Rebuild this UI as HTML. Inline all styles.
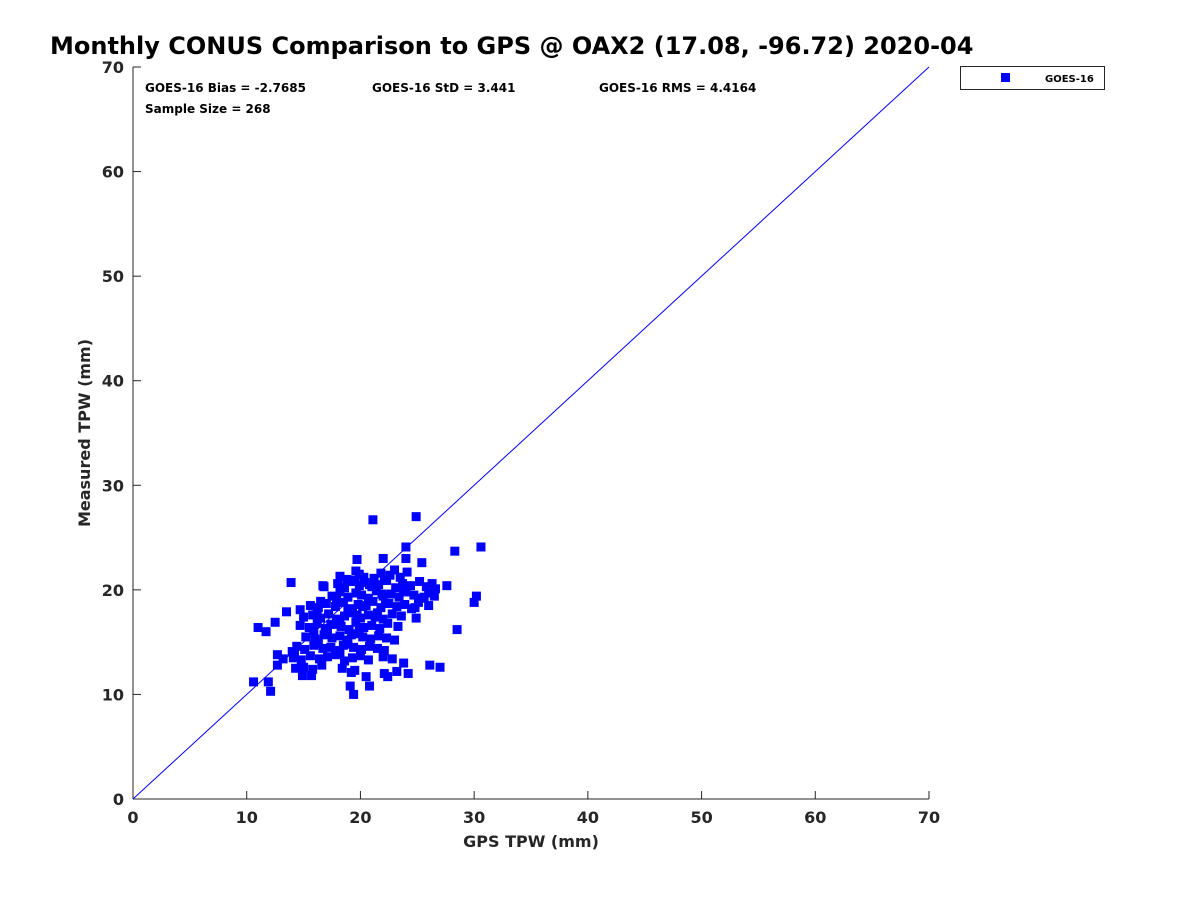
<!DOCTYPE html>
<html><head><meta charset="utf-8"><style>
body{margin:0;background:#fff}
svg text{font-family:"DejaVu Sans","Liberation Sans",sans-serif;font-weight:bold;fill:#262626}
</style></head><body>
<svg id="chart" width="1200" height="900" viewBox="0 0 1200 900" xmlns="http://www.w3.org/2000/svg">
<rect width="1200" height="900" fill="#fff"/>
<text x="50" y="54" font-size="24" fill="#000" style="fill:#000">Monthly CONUS Comparison to GPS @ OAX2 (17.08, -96.72) 2020-04</text>
<g id="axes"></g>
<g id="marks"></g>
<text x="145" y="92" font-size="12" style="fill:#000">GOES-16 Bias = -2.7685</text>
<text x="372" y="92" font-size="12" style="fill:#000">GOES-16 StD = 3.441</text>
<text x="599" y="92" font-size="12" style="fill:#000">GOES-16 RMS = 4.4164</text>
<text x="145" y="113" font-size="12" style="fill:#000">Sample Size = 268</text>
<g>
<rect x="960.5" y="66.5" width="144" height="23" fill="#fff" stroke="#262626" stroke-width="1"/>
<rect x="1001" y="73" width="9" height="9" fill="#0000ff"/>
<text x="1045" y="82" font-size="10" style="fill:#000">GOES-16</text>
</g>
<text x="531" y="847" font-size="16" text-anchor="middle">GPS TPW (mm)</text>
<text transform="translate(90,433) rotate(-90)" font-size="16" text-anchor="middle">Measured TPW (mm)</text>
</svg>
<script>
const xTicks=[0,10,20,30,40,50,60,70];
const yTicks=[0,10,20,30,40,50,60,70];
const gpsTPW=[
10.6,11.0,11.7,11.9,12.1,12.5,12.7,12.7,13.2,13.5,13.9,14.2,14.3,14.7,14.9,15.7,16.7,19.1,19.4,19.2,20.5,20.8,21.1,22.0,22.1,22.4,23.2,23.8,24.2,24.9,24.0,28.3,30.6,27.6,30.2,30.0,28.5,26.1,27.0,19.7,24.0,25.4,14.0,
18.2,18.8,19.6,20.3,21.2,21.8,22.6,23.0,23.5,24.1,22.1,19.9,
16.8,18.0,18.6,19.3,19.9,20.4,21.0,21.6,22.3,23.1,23.7,24.4,25.2,25.8,26.3,26.6,19.5,20.8,
17.5,18.2,18.9,19.6,20.1,20.7,21.4,22.0,22.7,23.4,24.0,24.7,25.3,26.0,26.5,17.9,21.9,23.8,25.6,
15.6,16.3,17.0,17.8,18.5,19.2,19.8,20.5,21.1,21.8,22.5,23.2,23.9,24.5,25.1,16.5,18.9,20.2,22.2,24.8,26.0,
15.0,15.8,16.5,17.2,17.9,18.6,19.3,20.0,20.7,21.3,22.0,22.8,23.6,24.9,16.2,18.2,19.7,21.5,
14.7,15.5,16.2,16.9,17.6,18.3,19.0,19.6,20.3,21.0,21.7,22.4,23.3,15.9,17.4,19.9,
15.2,16.0,16.8,17.5,18.2,18.9,19.5,20.2,20.9,21.6,22.3,23.0,17.1,19.2,
14.4,15.1,15.9,16.7,17.4,18.1,18.8,19.4,20.1,20.8,21.5,22.1,16.3,18.5,
14.1,14.8,15.6,16.4,17.1,17.8,18.6,19.3,20.0,20.7,22.0,22.8,18.2,
15.0,15.8,16.6,18.4,19.5];
const measuredTPW=[
11.2,16.4,16.0,11.2,10.3,16.9,13.8,12.8,13.4,17.9,20.7,14.0,12.5,18.1,11.8,11.8,20.4,10.8,10.0,12.1,11.7,10.8,26.7,23.0,12.0,11.7,12.2,13.0,12.0,27.0,24.1,23.7,24.1,20.4,19.4,18.8,16.2,12.8,12.6,22.9,23.0,22.6,14.1,
21.3,21.0,21.8,21.2,21.1,21.6,21.4,21.9,21.2,21.7,20.9,21.5,
20.3,20.6,20.2,20.8,20.4,20.7,20.3,20.5,20.9,20.2,20.6,20.4,20.8,20.3,20.6,20.1,20.9,20.5,
19.4,19.8,19.3,19.7,19.5,19.2,19.9,19.4,19.6,19.3,19.8,19.5,19.2,19.7,19.4,19.1,19.6,19.9,19.3,
18.5,18.3,18.7,18.4,18.8,18.2,18.6,18.5,18.9,18.3,18.7,18.4,18.6,18.2,18.8,18.9,18.1,18.4,18.7,18.3,18.5,
17.4,17.6,17.3,17.7,17.2,17.5,17.8,17.3,17.6,17.4,17.2,17.7,17.5,17.3,17.9,17.1,17.6,17.8,
16.6,16.4,16.8,16.3,16.7,16.5,16.2,16.9,16.4,16.6,16.3,16.8,16.5,16.1,16.7,16.2,
15.5,15.3,15.7,15.4,15.6,15.2,15.8,15.5,15.3,15.6,15.4,15.2,15.9,15.7,
14.6,14.3,14.7,14.4,14.5,14.2,14.8,14.5,14.3,14.6,14.4,14.2,14.9,14.7,
13.5,13.3,13.7,13.4,13.6,13.8,13.2,13.5,13.7,13.3,13.6,13.4,13.9,
12.6,12.4,12.8,12.5,12.3];
const NS="http://www.w3.org/2000/svg";
const L=133,R=929,T=67,B=799;
const xS=v=>L+(v-0)/70*(R-L);
const yS=v=>B-(v-0)/70*(B-T);
function mk(tag,attrs,parent){const e=document.createElementNS(NS,tag);for(const k in attrs)e.setAttribute(k,attrs[k]);parent.appendChild(e);return e;}
const ax=document.getElementById('axes'),mg=document.getElementById('marks');
let ln=mk('line',{x1:L,y1:B,x2:R,y2:B,stroke:'#262626','stroke-width':1},ax);


ln=mk('line',{x1:L,y1:B,x2:L,y2:T,stroke:'#262626','stroke-width':1},ax);


xTicks.forEach(t=>{
  const tk=mk('line',{x1:xS(t),y1:B,x2:xS(t),y2:B-8,stroke:'#262626'},ax);
  
  
  const tx=mk('text',{x:xS(t),y:B+24,'font-size':16,'text-anchor':'middle'},ax);
  tx.textContent=t;
  
  
});
yTicks.forEach(t=>{
  const tk=mk('line',{x1:L,y1:yS(t),x2:L+8,y2:yS(t),stroke:'#262626'},ax);
  
  
  const tx=mk('text',{x:L-9,y:yS(t)+6,'font-size':16,'text-anchor':'end'},ax);
  tx.textContent=t;
  
  
});
const diag=mk('line',{x1:xS(0),y1:yS(0),x2:xS(70),y2:yS(70),stroke:'#0000ff','stroke-width':1},ax);


for(let i=0;i<gpsTPW.length;i++){
  const p=mk('rect',{x:xS(gpsTPW[i])-4.5,y:yS(measuredTPW[i])-4.5,width:9,height:9,fill:'#0000ff'},mg);
  
  
}
</script>
</body></html>
